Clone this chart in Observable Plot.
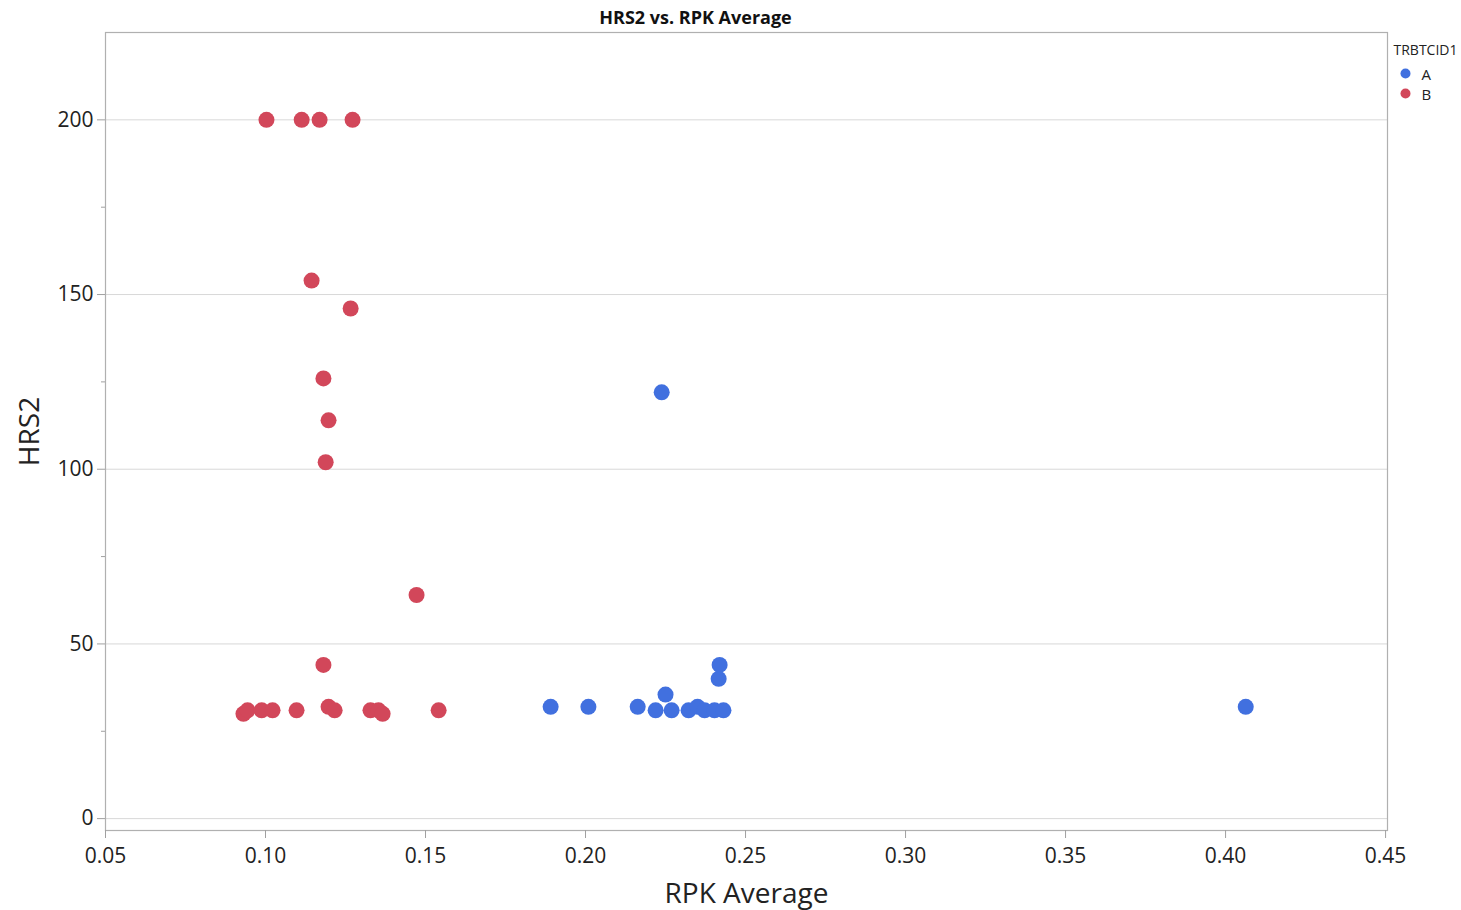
<!DOCTYPE html>
<html>
<head>
<meta charset="utf-8">
<script src="https://cdn.jsdelivr.net/npm/d3@7"></script>
<script src="https://cdn.jsdelivr.net/npm/@observablehq/plot@0.6"></script>
<style>
  html, body { margin: 0; padding: 0; background: #fff; }
  #chart svg { display: block; }
</style>
</head>
<body>
<div id="chart"></div>
<script>
// Series names for the TRBTCID1 grouping
const groups = ["A", "B"];
const groupColors = ["#4170df", "#d2475a"];

// Group A: RPK Average vs HRS2
const aRpk = [0.2238, 0.4063, 0.1891, 0.2009, 0.2163, 0.2219, 0.2250, 0.2269, 0.2322, 0.2350, 0.2372, 0.2403, 0.2431, 0.2419, 0.2416];
const aHrs = [122, 32, 32, 32, 32, 31, 35.5, 31, 31, 32, 31, 31, 31, 44, 40];

// Group B: RPK Average vs HRS2
const bRpk = [0.1003, 0.1113, 0.1169, 0.1272, 0.1144, 0.1266, 0.1181, 0.1197, 0.1188, 0.1472, 0.1181,
              0.0931, 0.0944, 0.0988, 0.1022, 0.1097, 0.1197, 0.1216, 0.1328, 0.1353, 0.1366, 0.1541];
const bHrs = [200, 200, 200, 200, 154, 146, 126, 114, 102, 64, 44,
              30, 31, 31, 31, 31, 32, 31, 31, 31, 30, 31];

// Axis ticks
const xTicks = [0.05, 0.10, 0.15, 0.20, 0.25, 0.30, 0.35, 0.40, 0.45];
const yTicks = [0, 50, 100, 150, 200];
const yMinorTicks = [25, 75, 125, 175];

const points = [
  ...aRpk.map((x, i) => ({rpk: x, hrs: aHrs[i], group: groups[0]})),
  ...bRpk.map((x, i) => ({rpk: x, hrs: bHrs[i], group: groups[1]}))
];

const font = "'Open Sans', 'Noto Sans', sans-serif";
const narrow = "'Liberation Sans Narrow', 'Open Sans', sans-serif";

const chart = Plot.plot({
  width: 1461,
  height: 910,
  marginTop: 32,
  marginRight: 74,
  marginBottom: 80,
  marginLeft: 105,
  style: {fontFamily: font, fontSize: "21px", color: "#222", background: "#fff"},
  x: {domain: [0.05, 0.4506], ticks: xTicks},
  y: {domain: [-3.4, 225], ticks: yTicks},
  color: {domain: groups, range: groupColors},
  marks: [
    Plot.gridY(yTicks, {stroke: "#d8d8d8", strokeOpacity: 1, strokeWidth: 1}),
    Plot.frame({stroke: "#b0b0b0", strokeWidth: 1.2}),
    Plot.axisX(xTicks, {
      tickSize: 8, tickPadding: 10, stroke: "#a0a0a0",
      tickFormat: d3.format(".2f"), label: null, fill: "#222"
    }),
    Plot.axisY(yTicks, {
      tickSize: 8, tickPadding: 4, stroke: "#a0a0a0",
      label: null, fill: "#222"
    }),
    Plot.axisY(yMinorTicks, {
      tickSize: 4, stroke: "#a0a0a0", tickFormat: () => "", label: null
    }),
    Plot.dot(points, {x: "rpk", y: "hrs", fill: "group", r: 8, stroke: null}),
    // Axis titles
    Plot.text(["RPK Average"], {frameAnchor: "bottom", dy: 72, fontSize: 28, fill: "#222"}),
    Plot.text(["HRS2"], {frameAnchor: "left", textAnchor: "middle", dx: -75, rotate: -90, fontSize: 28, fill: "#222"}),
    // Chart title
    Plot.text(["HRS2 vs. RPK Average"], {
      frameAnchor: "top", dx: -51, dy: -21, fontSize: 18, fontWeight: "bold",
      fontFamily: narrow, fill: "#111"
    }),
    // Legend
    Plot.text(["TRBTCID1"], {
      frameAnchor: "top-right", dx: 6, dy: 13, textAnchor: "start",
      fontSize: 14, fontFamily: narrow, fill: "#222"
    }),
    Plot.dot([groups[0]], {frameAnchor: "top-right", dx: 18, dy: 41, r: 5, fill: groupColors[0]}),
    Plot.text([groups[0]], {frameAnchor: "top-right", dx: 34, dy: 37, textAnchor: "start", fontSize: 15, fill: "#222"}),
    Plot.dot([groups[1]], {frameAnchor: "top-right", dx: 18, dy: 61, r: 5, fill: groupColors[1]}),
    Plot.text([groups[1]], {frameAnchor: "top-right", dx: 34, dy: 57, textAnchor: "start", fontSize: 15, fill: "#222"})
  ]
});

document.getElementById("chart").appendChild(chart);
</script>
</body>
</html>
